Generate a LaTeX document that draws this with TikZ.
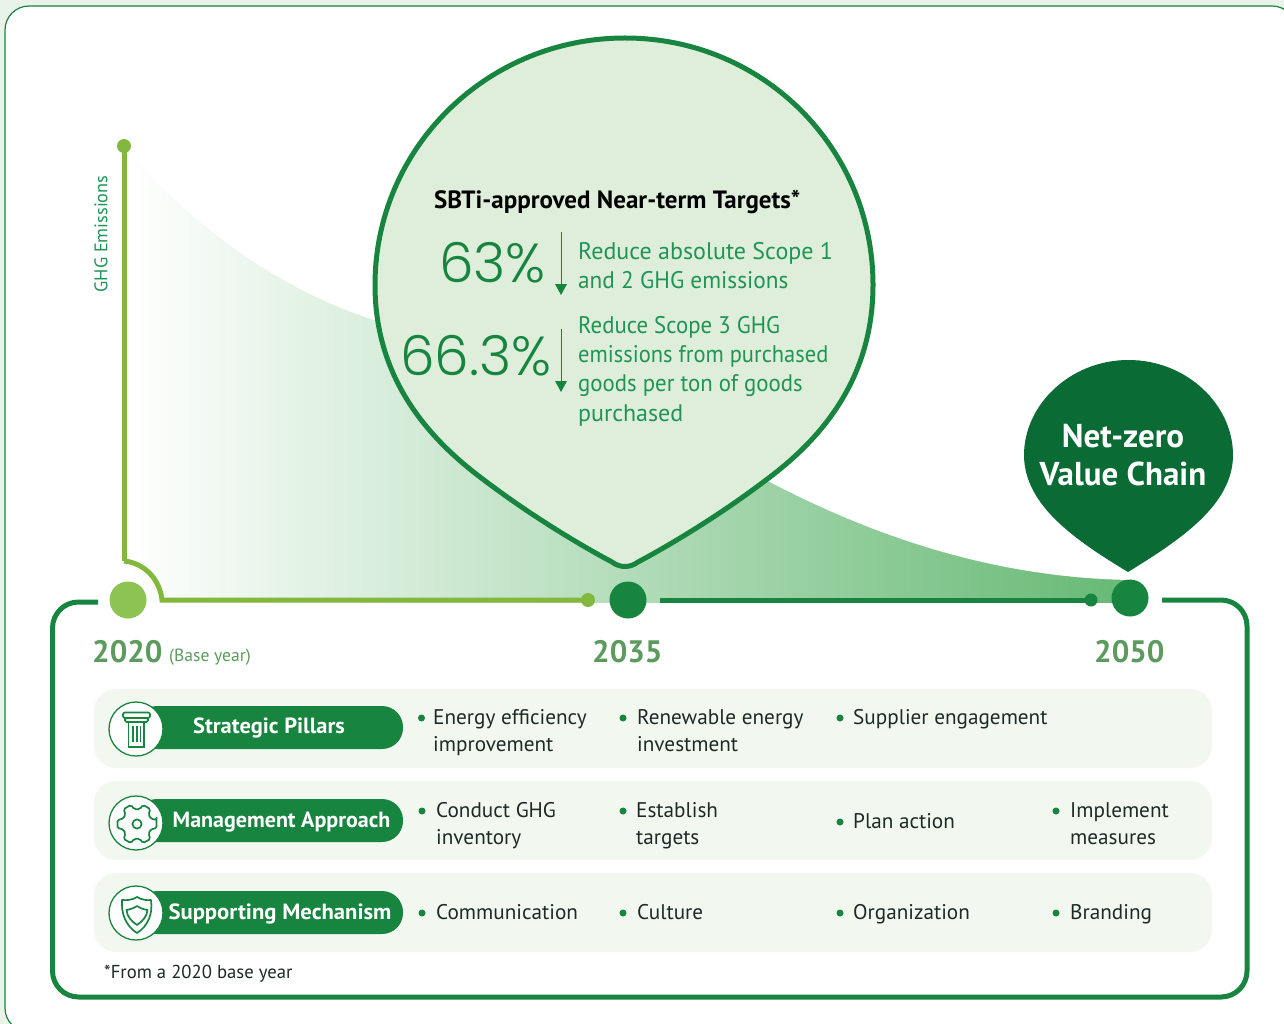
\documentclass[tikz,border=0pt]{standalone}
\usepackage{fontspec}
\setmainfont{PT Sans}
\newfontfamily\numf{Poppins Light}
\definecolor{framec}{HTML}{17853F}
\definecolor{axisc}{HTML}{83B83E}
\definecolor{lime}{HTML}{8DC353}
\definecolor{pale}{HTML}{E9F3EA}
\definecolor{bubble}{HTML}{DEEEDB}
\definecolor{dark}{HTML}{0B6B35}
\definecolor{rowc}{HTML}{F2F8EF}
\definecolor{yearc}{HTML}{5C9A5E}
\definecolor{txtg}{HTML}{1F9455}
\definecolor{ink}{HTML}{1E2A26}
\definecolor{gradmid}{HTML}{ABDAB4}
\definecolor{gradend}{HTML}{66B974}
\tikzset{
 tl/.style={inner sep=0pt,anchor=base west},
 bodyt/.style={tl,text=txtg,font=\fontsize{24}{24}\selectfont},
 itemt/.style={tl,text=ink,font=\fontsize{21.2}{21}\selectfont},
 yeart/.style={tl,text=yearc,font=\bfseries\fontsize{31}{31}\selectfont},
 pilltxt/.style={inner sep=0pt,text=white,font=\bfseries\fontsize{22}{22}\selectfont},
 nz/.style={inner sep=0pt,text=white,font=\bfseries\fontsize{33}{33}\selectfont},
 rowbg/.style={fill=rowc,rounded corners=22pt},
 pillbg/.style={fill=framec,rounded corners=21pt},
 iconc/.style={circle,draw=framec,fill=white,line width=1.3pt,minimum size=54pt,inner sep=0pt},
 icoln/.style={draw=framec,line width=1.7pt},
 bul/.style={circle,fill=framec,minimum size=7pt,inner sep=0pt},
 dotc/.style={circle,minimum size=37pt,inner sep=0pt},
 smalld/.style={circle,minimum size=13pt,inner sep=0pt},
 downarrow/.style={draw=framec,line width=1pt},
}
\begin{document}
\begin{tikzpicture}[x=1pt,y=-1pt]
\useasboundingbox (0,0) rectangle (1284,1024);
\fill[pale] (0,0) rectangle (1284,1024);
\begin{scope}
\clip (0,0) rectangle (1284,1024);
\draw[framec,line width=1.2pt,fill=white,rounded corners=24pt] (5,6) rectangle (1296,1032);
\end{scope}
% emission curve: shaded band, masked above the curve
\shade[left color=white,middle color=gradmid,right color=gradend] (125,150) rectangle (1130,602);
\fill[white] (126,150) .. controls (220,255) and (310,300) .. (380,322)
 -- (766,480) .. controls (880,540) and (1000,578) .. (1131,580)
 -- (1131,148) -- (126,148) -- cycle;
% axis
\coordinate (axtop) at (124,146);
\coordinate (axknee) at (124,561);
\coordinate (axturn) at (162,600);
\node[smalld,fill=axisc,minimum size=14pt] (topdot) at (axtop) {};
\node[smalld,fill=axisc,minimum size=14pt] (dota) at (588,600) {};
\node[smalld,fill=framec] (dotb) at (1091,600) {};
\draw[axisc,line width=5pt] (topdot.center) -- (axknee);
\draw[axisc,line width=5pt] (axknee) .. controls (145,563) and (160,580) .. (axturn) -- (dota.center);
\node[rotate=90,inner sep=0pt,text=txtg,font=\fontsize{18.3}{18}\selectfont] (ghg) at (101,234) {GHG Emissions};
% frame
\coordinate (fa) at (98,602);
\coordinate (fb) at (1162,600);
\draw[framec,line width=5pt,rounded corners=26pt] (fa) -- (52.5,602) -- (52.5,997) -- (1247,997) -- (1247,600) -- (fb);
\coordinate (ga) at (660,600);
\draw[framec,line width=5pt] (ga) -- (dotb.center);
% year circles
\node[dotc,fill=lime] (c2020) at (128,600) {};
\node[dotc,fill=framec] (c2035) at (628,600) {};
\node[dotc,fill=framec] (c2050) at (1130,598) {};
% big pin
\draw[framec,line width=5pt,fill=bubble,line join=round]
 (625,38) .. controls (487,38) and (375,148) .. (375,285)
 .. controls (375,380) and (430,440) .. (484,480)
 .. controls (530,515) and (580,545) .. (612,562)
 .. controls (620,568) and (630,568) .. (638,562)
 .. controls (670,545) and (720,515) .. (766,480)
 .. controls (820,440) and (873,380) .. (873,285)
 .. controls (873,148) and (763,38) .. (625,38) -- cycle;
% small pin
\fill[dark] (1128.5,360) .. controls (1070,360) and (1024,405) .. (1024,455)
 .. controls (1024,505) and (1075,540) .. (1128,572)
 .. controls (1180,540) and (1233,505) .. (1233,455)
 .. controls (1233,405) and (1187,360) .. (1128.5,360) -- cycle;
\node[nz] (nz1) at (1123,436) {Net-zero};
\node[nz] (nz2) at (1123,474) {Value Chain};
% bubble text
\node[tl,text=black,font=\bfseries\fontsize{25}{25}\selectfont] (title) at (434,209) {SBTi-approved Near-term Targets*};
\node[tl,text=framec,font=\numf\fontsize{55}{55}\selectfont] (p63) at (439,282) {63\%};
\node[tl,text=framec,font=\numf\fontsize{55}{55}\selectfont] (p66) at (400,375) {66.3\%};
\coordinate (a1s) at (561,232); \coordinate (a1e) at (561,285);
\coordinate (a2s) at (561,329); \coordinate (a2e) at (561,382);
\draw[downarrow] (a1s) -- (a1e);
\draw[downarrow] (a2s) -- (a2e);
\fill[framec] (555,284) -- (567,284) -- (561,295) -- cycle;
\fill[framec] (555,381) -- (567,381) -- (561,392) -- cycle;
\node[bodyt] (b1) at (578,259) {Reduce absolute Scope 1};
\node[bodyt,xscale=.97] (b2) at (578,288) {and 2 GHG emissions};
\node[bodyt,xscale=.95] (b3) at (578,333) {Reduce Scope 3 GHG};
\node[bodyt,xscale=.937] (b4) at (578,362) {emissions from purchased};
\node[bodyt,xscale=.95] (b5) at (578,391) {goods per ton of goods};
\node[bodyt] (b6) at (578,421) {purchased};
% years
\node[yeart] (y20) at (92,662) {2020};
\node[tl,text=yearc,font=\fontsize{17.6}{17}\selectfont] (base) at (169,661) {(Base year)};
\node[yeart] (y35) at (592,662) {2035};
\node[yeart] (y50) at (1094,662) {2050};
% rows
\fill[rowbg] (94,689) rectangle (1212,768);
\fill[rowbg] (94,781) rectangle (1212,860);
\fill[rowbg] (94,873) rectangle (1212,952);
\fill[pillbg] (136,706) rectangle (403,749);
\fill[pillbg] (136,799) rectangle (403,842);
\fill[pillbg] (136,891) rectangle (403,934);
\node[iconc] (i1) at (136,729) {};
\node[iconc] (i2) at (136,823) {};
\node[iconc] (i3) at (136,913) {};
\node[pilltxt,xscale=1.02] (t1) at (269,728) {Strategic Pillars};
\node[pilltxt] (t2) at (281.5,822) {Management Approach};
\node[pilltxt,xscale=1.03] (t3) at (280,914) {Supporting Mechanism};
% pillar icon
\draw[icoln,rounded corners=2pt] (123,712.5) rectangle (150,718);
\draw[icoln,rounded corners=1.5pt] (125,718) rectangle (148,722);
\draw[icoln] (128.5,722) rectangle (144,747);
\draw[icoln] (133,726) -- (133,742) (137,726) -- (137,742) (140.5,726) -- (140.5,742);
% gear icon
\begin{scope}[shift={(137,824)}]
\draw[icoln,rounded corners=1.6pt] (-12:20)
 \foreach \a in {0,60,...,300} { -- (\a-12:20) -- (\a+12:20) -- (\a+20:15) -- (\a+40:15) } -- cycle;
\draw[icoln] (0,0) circle[radius=4.6];
\end{scope}
% shield icon
\draw[icoln,line join=round] (137,897) .. controls (142,900) and (147,900.5) .. (151,900)
 .. controls (153,914) and (148,926) .. (137,933)
 .. controls (126,926) and (121,914) .. (122,900)
 .. controls (127,900.5) and (132,900) .. (137,897) -- cycle;
\draw[icoln,line join=round] (137,906) .. controls (140,908) and (144,909.5) .. (147.5,910)
 .. controls (147,916) and (143,921) .. (137,925)
 .. controls (131,921) and (127,916) .. (126.5,910)
 .. controls (130,909.5) and (134,908) .. (137,906) -- cycle;
% items row 1
\node[bul] (d11) at (421.5,718) {};
\node[itemt] (r11a) at (433,724) {Energy efficiency};
\node[itemt] (r11b) at (433,751) {improvement};
\node[bul] (d12) at (623,718) {};
\node[itemt] (r12a) at (637,724) {Renewable energy};
\node[itemt] (r12b) at (637,751) {investment};
\node[bul] (d13) at (840,718) {};
\node[itemt] (r13a) at (853,724) {Supplier engagement};
% row 2
\node[bul] (d21) at (422,811) {};
\node[itemt] (r21a) at (436,817) {Conduct GHG};
\node[itemt] (r21b) at (436,844) {inventory};
\node[bul] (d22) at (623,811) {};
\node[itemt] (r22a) at (636,817) {Establish};
\node[itemt] (r22b) at (636,844) {targets};
\node[bul] (d23) at (840,822) {};
\node[itemt] (r23a) at (853,828) {Plan action};
\node[bul] (d24) at (1056,811) {};
\node[itemt] (r24a) at (1070,817) {Implement};
\node[itemt] (r24b) at (1070,844) {measures};
% row 3
\node[bul] (d31) at (422,913) {};
\node[itemt] (r31a) at (436,919) {Communication};
\node[bul] (d32) at (623,913) {};
\node[itemt] (r32a) at (637,919) {Culture};
\node[bul] (d33) at (840,913) {};
\node[itemt] (r33a) at (853,919) {Organization};
\node[bul] (d34) at (1056,913) {};
\node[itemt] (r34a) at (1070,919) {Branding};
\node[tl,text=ink,font=\fontsize{18.7}{18}\selectfont] (foot) at (104,978) {*From a 2020 base year};
\end{tikzpicture}
\end{document}
